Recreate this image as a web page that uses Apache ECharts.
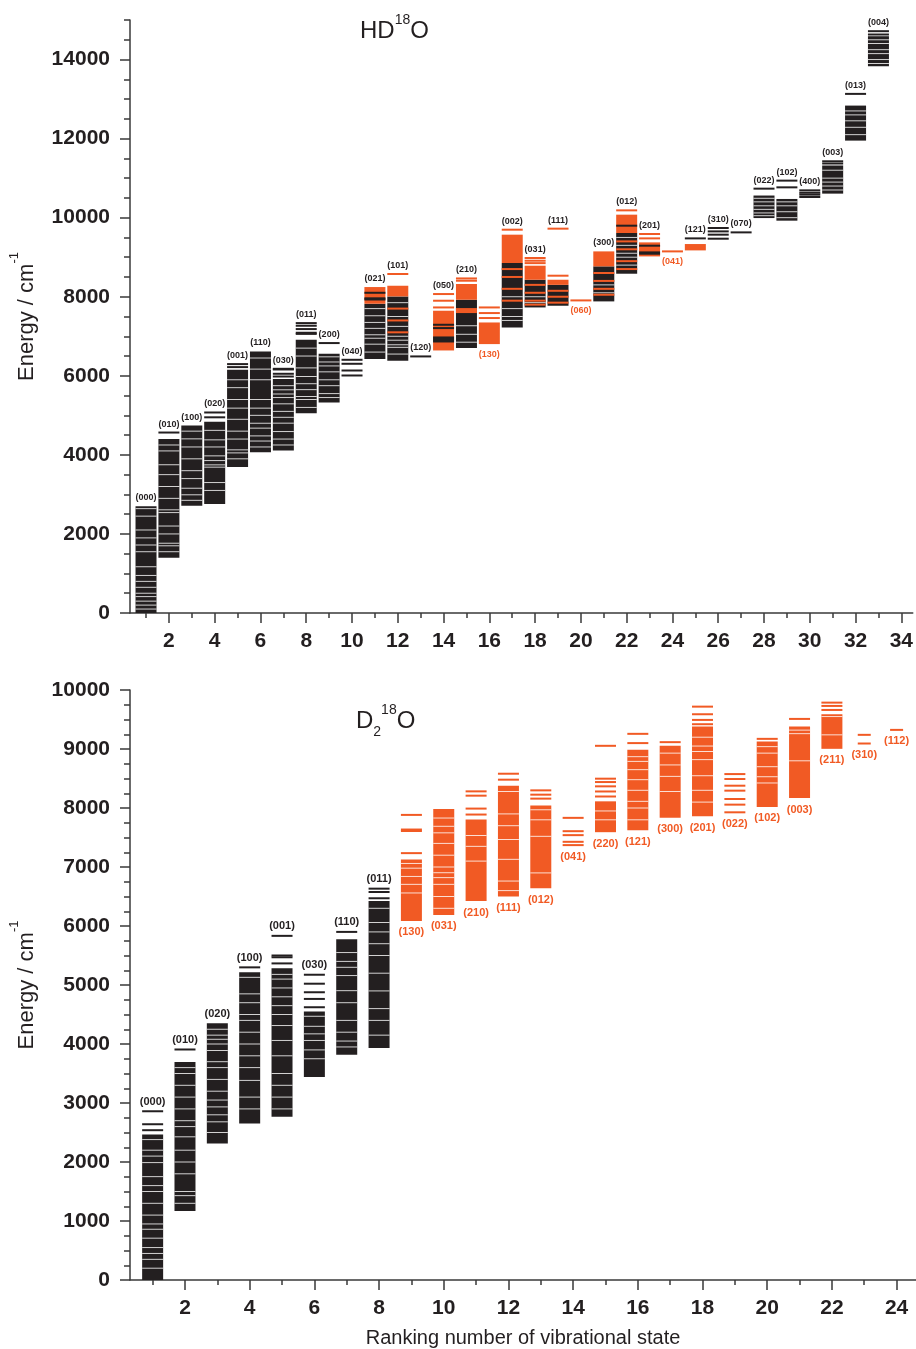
<!DOCTYPE html>
<html>
<head>
<meta charset="utf-8">
<title>HD18O / D2 18O vibrational states</title>
<script src="https://cdn.jsdelivr.net/npm/echarts@6/dist/echarts.min.js"></script>
<style>
  html, body { margin: 0; padding: 0; background: #fff; }
  #chart { width: 916px; height: 1349px; }
</style>
</head>
<body>
<div id="chart"></div>
<script>
// ---- HD18O (upper panel) ----
const hdStates = ['(000)', '(010)', '(100)', '(020)', '(001)', '(110)', '(030)', '(011)', '(200)', '(040)',
  '(021)', '(101)', '(120)', '(050)', '(210)', '(130)', '(002)', '(031)', '(111)', '(060)',
  '(300)', '(012)', '(201)', '(041)', '(121)', '(310)', '(070)', '(022)', '(102)', '(400)',
  '(003)', '(013)', '(004)']
// ranks whose label is orange and sits under the levels
const hdBelow = [16, 20, 24]

// dense blocks of levels: [rank, lowest, highest, colour]
const hdBands = [
  [1, 0, 2700, 'k'], [2, 1400, 4400, 'k'], [3, 2710, 4740, 'k'], [4, 2760, 4840, 'k'],
  [5, 3690, 6150, 'k'], [6, 4068, 6616, 'k'], [7, 4110, 5916, 'k'], [8, 5053, 6911, 'k'],
  [9, 5324, 6557, 'k'],
  [11, 6422, 7823, 'k'], [11, 7823, 8245, 'o'],
  [12, 6380, 8008, 'k'], [12, 8008, 8278, 'o'],
  [14, 6641, 7646, 'o'], [14, 6843, 6995, 'k'],
  [15, 6701, 7924, 'k'], [15, 7924, 8322, 'o'], [15, 7587, 7713, 'o'],
  [16, 6802, 7349, 'o'],
  [17, 7223, 8853, 'k'], [17, 8853, 9570, 'o'],
  [18, 7729, 8430, 'k'], [18, 8430, 8785, 'o'],
  [19, 7772, 8300, 'k'], [19, 8300, 8430, 'o'],
  [21, 7882, 8768, 'k'], [21, 8768, 9147, 'o'],
  [22, 8582, 9612, 'k'], [22, 9612, 10076, 'o'],
  [23, 9020, 9375, 'o'], [23, 9063, 9147, 'k'],
  [25, 9172, 9333, 'o'],
  [28, 9990, 10560, 'k'], [29, 9924, 10473, 'k'], [31, 10608, 11320, 'k'],
  [32, 11949, 12835, 'k'], [33, 13830, 14590, 'k']
]
// single levels: [rank, energy, colour]
const hdLines = [
  [2, 4565, 'k'], [4, 5072, 'k'], [4, 4950, 'k'], [5, 6296, 'k'], [5, 6220, 'k'],
  [7, 6177, 'k'], [7, 6160, 'k'], [7, 6051, 'k'], [7, 5982, 'k'],
  [8, 7333, 'k'], [8, 7266, 'k'], [8, 7182, 'k'], [8, 7089, 'k'], [8, 7060, 'k'],
  [9, 6828, 'k'], [10, 6405, 'k'], [10, 6304, 'k'], [10, 6134, 'k'], [10, 6008, 'k'],
  [11, 8100, 'k'], [11, 7960, 'k'], [11, 7930, 'k'],
  [12, 8575, 'o'], [12, 7700, 'o'], [12, 7400, 'o'], [12, 7100, 'o'],
  [13, 6490, 'k'],
  [14, 8068, 'o'], [14, 7899, 'o'], [14, 7729, 'o'], [14, 7291, 'k'], [14, 7207, 'k'],
  [15, 8463, 'o'], [15, 8405, 'o'],
  [16, 7729, 'o'], [16, 7587, 'o'], [16, 7461, 'o'],
  [17, 9696, 'o'], [17, 8700, 'o'], [17, 8500, 'o'], [17, 8200, 'o'], [17, 7900, 'o'],
  [18, 8980, 'o'], [18, 8911, 'o'], [18, 8850, 'o'], [18, 8300, 'o'], [18, 8100, 'o'], [18, 7900, 'o'], [18, 7800, 'o'],
  [19, 9722, 'o'], [19, 8532, 'o'], [19, 8150, 'o'], [19, 8000, 'o'], [19, 7850, 'o'],
  [20, 7907, 'o'],
  [21, 8600, 'o'], [21, 8400, 'o'], [21, 8200, 'o'], [21, 8050, 'o'],
  [22, 10185, 'o'], [22, 9797, 'k'], [22, 9400, 'o'], [22, 9200, 'o'], [22, 8900, 'o'], [22, 8700, 'o'],
  [23, 9587, 'o'], [23, 9476, 'o'], [23, 9291, 'k'],
  [24, 9147, 'o'], [25, 9476, 'k'],
  [26, 9739, 'k'], [26, 9653, 'k'], [26, 9570, 'k'], [26, 9468, 'k'],
  [27, 9628, 'k'], [28, 10734, 'k'], [29, 10937, 'k'], [29, 10767, 'k'],
  [30, 10691, 'k'], [30, 10630, 'k'], [30, 10582, 'k'], [30, 10523, 'k'],
  [31, 11426, 'k'], [31, 11370, 'k'], [32, 13131, 'k'], [33, 14717, 'k'], [33, 14633, 'k']
]
// visible spaces inside the blocks: [rank, energy]
const hdGaps = [
  [1, 2640], [1, 2450], [1, 2100], [1, 1900], [1, 1720], [1, 1550], [1, 1170], [1, 950],
  [1, 800], [1, 650], [1, 500], [1, 415], [1, 300], [1, 200], [1, 100],
  [2, 4250], [2, 4100], [2, 3750], [2, 3500], [2, 3200], [2, 2900], [2, 2610], [2, 2540],
  [2, 2200], [2, 2000], [2, 1765], [2, 1700], [2, 1550],
  [3, 4600], [3, 4405], [3, 4200], [3, 3900], [3, 3600], [3, 3400], [3, 3156], [3, 2990], [3, 2850],
  [4, 4620], [4, 4380], [4, 4200], [4, 3975], [4, 3856], [4, 3747], [4, 3689], [4, 3300], [4, 3100],
  [5, 5900], [5, 5700], [5, 5400], [5, 5182], [5, 4900], [5, 4600], [5, 4400], [5, 4127], [5, 4050], [5, 3900],
  [6, 6450], [6, 6169], [6, 5900], [6, 5400], [6, 5182], [6, 5000], [6, 4800], [6, 4676], [6, 4480], [6, 4350], [6, 4200],
  [7, 5750], [7, 5646], [7, 5540], [7, 5450], [7, 5291], [7, 5100], [7, 4950], [7, 4802], [7, 4590], [7, 4400], [7, 4250],
  [8, 6700], [8, 6500], [8, 6200], [8, 5982], [8, 5800], [8, 5650], [8, 5476], [8, 5400], [8, 5200],
  [9, 6480], [9, 6350], [9, 6250], [9, 6100], [9, 5899], [9, 5750], [9, 5550], [9, 5450],
  [11, 7700], [11, 7519], [11, 7350], [11, 7200], [11, 7038], [11, 6950], [11, 6800], [11, 6600],
  [12, 7850], [12, 7500], [12, 7250], [12, 7000], [12, 6900], [12, 6785], [12, 6720], [12, 6550],
  [15, 7266], [15, 7050], [15, 6850],
  [17, 8000], [17, 7700], [17, 7500], [17, 7400],
  [18, 8000], [18, 7850],
  [21, 8300], [21, 8100],
  [22, 9500], [22, 9300], [22, 9100], [22, 9000], [22, 8800],
  [28, 10490], [28, 10400], [28, 10300], [28, 10210], [28, 10120], [28, 10050],
  [29, 10400], [29, 10300], [29, 10150], [29, 10000],
  [31, 11200], [31, 11000], [31, 10900], [31, 10800], [31, 10700],
  [32, 12700], [32, 12600], [32, 12450], [32, 12286], [32, 12100],
  [33, 14500], [33, 14405], [33, 14250], [33, 14150], [33, 14000], [33, 13900]
]
const hdTicks = [2, 4, 6, 8, 10, 12, 14, 16, 18, 20, 22, 24, 26, 28, 30, 32, 34]
const hdMinorTicks = [1, 3, 5, 7, 9, 11, 13, 15, 17, 19, 21, 23, 25, 27, 29, 31, 33]
const hdEnergyTicks = [0, 2000, 4000, 6000, 8000, 10000, 12000, 14000]
const hdEnergyMinor = [500, 1000, 1500, 2500, 3000, 3500, 4500, 5000, 5500, 6500, 7000, 7500,
  8500, 9000, 9500, 10500, 11000, 11500, 12500, 13000, 13500, 14500, 15000]

// ---- D2 18O (lower panel) ----
const d2States = ['(000)', '(010)', '(020)', '(100)', '(001)', '(030)', '(110)', '(011)', '(130)', '(031)',
  '(210)', '(111)', '(012)', '(041)', '(220)', '(121)', '(300)', '(201)', '(022)', '(102)',
  '(003)', '(211)', '(310)', '(112)']
const d2Colour = 'kkkkkkkkoooooooooooooooo'
const d2Narrow = [23, 24]
const d2Bands = [
  [1, 0, 2466], [2, 1171, 3694], [3, 2314, 4353], [4, 2652, 5214], [5, 2765, 5282],
  [6, 3441, 4549], [7, 3818, 5777], [8, 3931, 6424], [9, 6086, 7128], [10, 6188, 7985],
  [11, 6424, 7804], [12, 6498, 8378], [13, 6639, 8041], [15, 7590, 8113], [16, 7623, 8986],
  [17, 7833, 9054], [18, 7860, 9380], [20, 8018, 9127], [21, 8170, 9380], [22, 9003, 9589]
]
const d2Lines = [
  [1, 2860], [1, 2640], [1, 2539], [2, 3907], [4, 5299],
  [5, 5833], [5, 5500], [5, 5470], [5, 5366],
  [6, 5174], [6, 5022], [6, 4877], [6, 4764], [6, 4623],
  [7, 5900], [8, 6633], [8, 6576], [8, 6470],
  [9, 7883], [9, 7635], [9, 7610], [9, 7235],
  [11, 8282], [11, 8209], [11, 7990], [11, 7889],
  [12, 8581], [12, 8480], [13, 8299], [13, 8226], [13, 8159],
  [14, 7833], [14, 7607], [14, 7540], [14, 7427], [14, 7371],
  [15, 9054], [15, 8497], [15, 8440], [15, 8367], [15, 8280], [15, 8195],
  [16, 9257], [16, 9100], [17, 9116],
  [18, 9718], [18, 9589], [18, 9493], [18, 9420],
  [19, 8575], [19, 8491], [19, 8378], [19, 8294], [19, 8153], [19, 8057], [19, 7927],
  [20, 9172], [21, 9510], [22, 9786], [22, 9730], [22, 9662],
  [23, 9240], [23, 9093], [24, 9324]
]
const d2Gaps = [
  [1, 2380], [1, 2200], [1, 2100], [1, 1990], [1, 1752], [1, 1600], [1, 1500], [1, 1300],
  [1, 1100], [1, 950], [1, 860], [1, 709], [1, 550], [1, 450], [1, 350], [1, 200],
  [2, 3600], [2, 3500], [2, 3300], [2, 3100], [2, 2900], [2, 2700], [2, 2600], [2, 2427],
  [2, 2200], [2, 2000], [2, 1800], [2, 1500], [2, 1430], [2, 1300],
  [3, 4250], [3, 4150], [3, 4080], [3, 4000], [3, 3890], [3, 3700], [3, 3600], [3, 3400],
  [3, 3200], [3, 3050], [3, 2934], [3, 2800], [3, 2681], [3, 2500],
  [4, 5130], [4, 4850], [4, 4700], [4, 4500], [4, 4400], [4, 4200], [4, 4000], [4, 3800],
  [4, 3600], [4, 3383], [4, 3100], [4, 2900],
  [5, 5180], [5, 5100], [5, 4950], [5, 4800], [5, 4650], [5, 4500], [5, 4313], [5, 4060],
  [5, 3800], [5, 3500], [5, 3300], [5, 3100], [5, 2900],
  [6, 4470], [6, 4300], [6, 4172], [6, 4060], [6, 3900], [6, 3750],
  [7, 5550], [7, 5400], [7, 5300], [7, 5160], [7, 4904], [7, 4700], [7, 4400], [7, 4200], [7, 4050], [7, 3950],
  [8, 6300], [8, 6059], [8, 5900], [8, 5700], [8, 5500], [8, 5200], [8, 4900], [8, 4600], [8, 4400], [8, 4150],
  [9, 7060], [9, 6980], [9, 6840], [9, 6706], [9, 6560],
  [10, 7830], [10, 7690], [10, 7579], [10, 7400], [10, 7200], [10, 7000], [10, 6903], [10, 6820],
  [10, 6706], [10, 6500], [10, 6300],
  [11, 7534], [11, 7350], [11, 7100],
  [12, 8280], [12, 7900], [12, 7700], [12, 7466], [12, 7130], [12, 6762], [12, 6600],
  [13, 7970], [13, 7800], [13, 7520], [13, 6900],
  [15, 7950], [15, 7800],
  [16, 8870], [16, 8790], [16, 8650], [16, 8480], [16, 8300], [16, 8113], [16, 8000], [16, 7800],
  [17, 8930], [17, 8730], [17, 8536], [17, 8280],
  [18, 9200], [18, 9050], [18, 8958], [18, 8820], [18, 8547], [18, 8300], [18, 8100],
  [20, 9040], [20, 8930], [20, 8700], [20, 8530], [20, 8424],
  [21, 9320], [21, 9260], [21, 8800], [22, 9550], [22, 9240]
]
const d2Ticks = [2, 4, 6, 8, 10, 12, 14, 16, 18, 20, 22, 24]
const d2MinorTicks = [1, 3, 5, 7, 9, 11, 13, 15, 17, 19, 21, 23]
const d2EnergyTicks = [0, 1000, 2000, 3000, 4000, 5000, 6000, 7000, 8000, 9000, 10000]
const d2EnergyMinor = [250, 500, 750, 1250, 1500, 1750, 2250, 2500, 2750, 3250, 3500, 3750,
  4250, 4500, 4750, 5250, 5500, 5750, 6250, 6500, 6750, 7250, 7500, 7750,
  8250, 8500, 8750, 9250, 9500, 9750]

const FONT = '"Liberation Sans", Arial, Helvetica, sans-serif'
const INK = '#231f20'
const AXIS = '#3a3a3a'
const COLORS = { k: '#231f20', o: '#f15a24' }

function buildLevels(bands, lines, gaps) {
  let items = []
  bands.forEach(b => items.push({ rank: b[0], lo: b[1], hi: b[2], kind: 'band', c: b[3] }))
  gaps.forEach(g => items.push({ rank: g[0], lo: g[1], hi: g[1], kind: 'gap' }))
  lines.forEach(l => items.push({ rank: l[0], lo: l[1], hi: l[1], kind: 'line', c: l[2] }))
  return items
}

const hdItems = buildLevels(hdBands, hdLines, hdGaps)
const d2Items = buildLevels(
  d2Bands.map(b => [b[0], b[1], b[2], d2Colour[b[0] - 1]]),
  d2Lines.map(l => [l[0], l[1], d2Colour[l[0] - 1]]),
  d2Gaps
)

function levelRenderer(items, narrow) {
  return function (params, api) {
    let d = items[params.dataIndex]
    let halfW = narrow.indexOf(d.rank) >= 0 ? 6.5 : 10.5
    let top = api.coord([d.rank, d.hi])
    let bot = api.coord([d.rank, d.lo])
    let y, h, fill
    if (d.kind === 'band') {
      y = top[1]; h = Math.max(bot[1] - top[1], 2); fill = COLORS[d.c]
    } else if (d.kind === 'line') {
      y = top[1] - 1; h = 2; fill = COLORS[d.c]
    } else {
      y = top[1] - 0.5; h = 1; fill = 'rgba(255,255,255,0.8)'
    }
    return {
      type: 'rect',
      shape: { x: top[0] - halfW, y: y, width: halfW * 2, height: h },
      style: { fill: fill }
    }
  }
}

// label anchor = top of the levels (or bottom when the label sits below)
function labelData(states, items, isBelow) {
  return states.map((s, i) => {
    let rank = i + 1
    let own = items.filter(d => d.rank === rank && d.kind !== 'gap')
    let below = isBelow(rank)
    let e = below ? Math.min(...own.map(d => d.lo)) : Math.max(...own.map(d => d.hi))
    return [rank, e, below ? 1 : 0]
  })
}

function labelRenderer(states, size) {
  return function (params, api) {
    let i = params.dataIndex
    let below = api.value(2) === 1
    let pt = api.coord([api.value(0), api.value(1)])
    return {
      type: 'text',
      x: pt[0],
      y: below ? pt[1] + 6 : pt[1] - 4,
      style: {
        text: states[i],
        fill: below ? COLORS.o : INK,
        font: 'bold ' + size + 'px ' + FONT,
        align: 'center',
        verticalAlign: below ? 'top' : 'bottom'
      }
    }
  }
}

function xAxes(grid, max, major, minor, withName) {
  let main = {
    gridIndex: grid, type: 'value', position: 'bottom', min: 0.3, max: max,
    axisLine: { lineStyle: { color: AXIS, width: 1.5 } },
    axisTick: { customValues: major, length: 10, lineStyle: { color: AXIS, width: 1.5 } },
    axisLabel: { customValues: major, margin: 18, fontSize: 21, fontWeight: 'bold', color: INK, fontFamily: FONT },
    splitLine: { show: false }
  }
  if (withName) {
    main.name = 'Ranking number of vibrational state'
    main.nameLocation = 'middle'
    main.nameGap = 48
    main.nameTextStyle = { fontSize: 20, color: INK, fontFamily: FONT }
  }
  let sub = {
    gridIndex: grid, type: 'value', position: 'bottom', min: 0.3, max: max,
    axisLine: { show: false },
    axisTick: { customValues: minor, length: 5, lineStyle: { color: AXIS, width: 1.5 } },
    axisLabel: { show: false },
    splitLine: { show: false }
  }
  return [main, sub]
}

function yAxes(grid, max, major, minor) {
  let main = {
    gridIndex: grid, type: 'value', position: 'left', min: 0, max: max,
    name: '{a|Energy / cm}{s|-1}',
    nameLocation: 'middle', nameRotate: 90, nameGap: 92,
    nameTextStyle: {
      color: INK, fontFamily: FONT,
      rich: {
        a: { fontSize: 22, color: INK, fontFamily: FONT, lineHeight: 30, verticalAlign: 'bottom' },
        s: { fontSize: 13, color: INK, fontFamily: FONT, lineHeight: 13, verticalAlign: 'top' }
      }
    },
    axisLine: { lineStyle: { color: AXIS, width: 1.5 } },
    axisTick: { customValues: major, length: 10, lineStyle: { color: AXIS, width: 1.5 } },
    axisLabel: {
      customValues: major, margin: 20, fontSize: 21, fontWeight: 'bold', color: INK, fontFamily: FONT,
      formatter: v => String(v)
    },
    splitLine: { show: false }
  }
  let sub = {
    gridIndex: grid, type: 'value', position: 'left', min: 0, max: max,
    axisLine: { show: false },
    axisTick: { customValues: minor, length: 6, lineStyle: { color: AXIS, width: 1.5 } },
    axisLabel: { show: false },
    splitLine: { show: false }
  }
  return [main, sub]
}

const titleRich = {
  n: { fontSize: 24, fontWeight: 'normal', color: INK, fontFamily: FONT, lineHeight: 36 },
  s: { fontSize: 14, fontWeight: 'normal', color: INK, fontFamily: FONT, lineHeight: 14, verticalAlign: 'top' },
  b: { fontSize: 14, fontWeight: 'normal', color: INK, fontFamily: FONT, lineHeight: 14, verticalAlign: 'bottom' }
}

let myChart = echarts.init(document.getElementById('chart'), null, { renderer: 'canvas' })
let option = {
  animation: false,
  backgroundColor: '#ffffff',
  title: [
    { text: '{n|HD}{s|18}{n|O}', left: 360, top: 13, padding: 0, textStyle: { fontWeight: 'normal', rich: titleRich } },
    { text: '{n|D}{b|2}{s|18}{n|O}', left: 356, top: 703, padding: 0, textStyle: { fontWeight: 'normal', rich: titleRich } }
  ],
  grid: [
    { left: 129, right: 0, top: 20, height: 593 },
    { left: 129, right: 0, top: 690, height: 592 }
  ],
  xAxis: [].concat(
    xAxes(0, 34.5, hdTicks, hdMinorTicks, false),
    xAxes(1, 24.6, d2Ticks, d2MinorTicks, true)
  ),
  yAxis: [].concat(
    yAxes(0, 15000, hdEnergyTicks, hdEnergyMinor),
    yAxes(1, 10000, d2EnergyTicks, d2EnergyMinor)
  ),
  series: [
    {
      type: 'custom', name: 'HD18O levels', xAxisIndex: 0, yAxisIndex: 0,
      renderItem: levelRenderer(hdItems, []),
      data: hdItems.map(d => [d.rank, d.lo, d.hi]),
      encode: { x: 0, y: [1, 2] }, silent: true
    },
    {
      type: 'custom', name: 'HD18O states', xAxisIndex: 0, yAxisIndex: 0,
      renderItem: labelRenderer(hdStates, 9),
      data: labelData(hdStates, hdItems, r => hdBelow.indexOf(r) >= 0),
      encode: { x: 0, y: 1 }, silent: true
    },
    {
      type: 'custom', name: 'D2 18O levels', xAxisIndex: 2, yAxisIndex: 2,
      renderItem: levelRenderer(d2Items, d2Narrow),
      data: d2Items.map(d => [d.rank, d.lo, d.hi]),
      encode: { x: 0, y: [1, 2] }, silent: true
    },
    {
      type: 'custom', name: 'D2 18O states', xAxisIndex: 2, yAxisIndex: 2,
      renderItem: labelRenderer(d2States, 11),
      data: labelData(d2States, d2Items, r => d2Colour[r - 1] === 'o'),
      encode: { x: 0, y: 1 }, silent: true
    }
  ]
}
myChart.setOption(option)
</script>
</body>
</html>
